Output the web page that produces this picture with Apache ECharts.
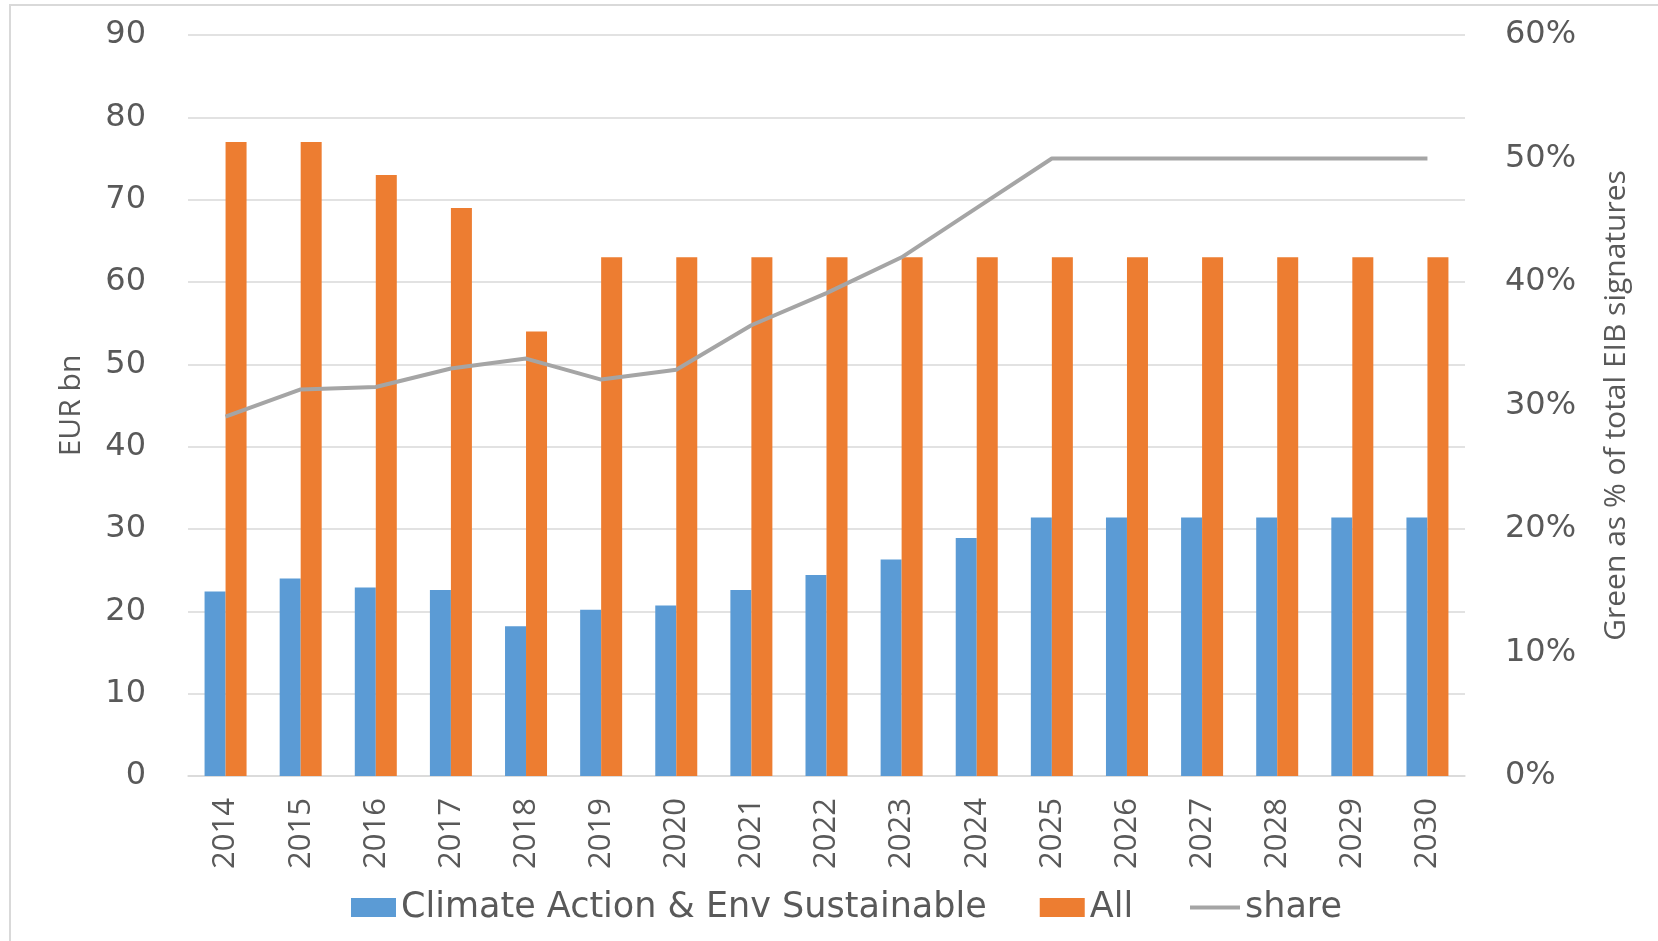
<!DOCTYPE html>
<html>
<head>
<meta charset="utf-8">
<title>EIB green signatures</title>
<script src="https://cdn.jsdelivr.net/npm/echarts@6/dist/echarts.min.js"></script>
<style>
  html, body { margin: 0; padding: 0; background: #fff; }
  #chart { width: 1658px; height: 941px; }
</style>
</head>
<body>
<div id="chart"></div>
<script>
var years = ['2014', '2015', '2016', '2017', '2018', '2019', '2020', '2021', '2022',
             '2023', '2024', '2025', '2026', '2027', '2028', '2029', '2030'];
// EUR bn
var climateEnv = [22.4, 24.0, 22.9, 22.6, 18.2, 20.2, 20.7, 22.6, 24.4,
                  26.3, 28.9, 31.4, 31.4, 31.4, 31.4, 31.4, 31.4];
var allSignatures = [77, 77, 73, 69, 54, 63, 63, 63, 63,
                     63, 63, 63, 63, 63, 63, 63, 63];
// green as share of total
var greenShare = [0.291, 0.313, 0.315, 0.330, 0.338, 0.321, 0.329, 0.365, 0.391,
                  0.420, 0.460, 0.500, 0.500, 0.500, 0.500, 0.500, 0.500];

var textColor = '#595959';
var gridColor = '#d9d9d9';
var hFont = 'DejaVu Sans';
var vFont = '"Open Sans", sans-serif';

var option = {
    animation: false,
    backgroundColor: '#fff',
    graphic: [{
        type: 'rect',
        shape: { x: 10, y: 5, width: 1700, height: 1000 },
        style: { fill: 'none', stroke: gridColor, lineWidth: 2 },
        silent: true
    }],
    grid: { left: 188, right: 193, top: 35, bottom: 165 },
    legend: [{
        data: ['Climate Action & Env Sustainable', 'All'],
        left: 351,
        top: 890,
        padding: 0,
        icon: 'rect',
        itemWidth: 45,
        itemHeight: 19,
        itemGap: 53,
        textStyle: { color: textColor, fontFamily: hFont, fontSize: 35 }
    }, {
        data: ['share'],
        left: 1190,
        top: 890,
        padding: 0,
        icon: 'rect',
        itemWidth: 50,
        itemHeight: 4,
        itemStyle: { borderWidth: 0 },
        textStyle: { color: textColor, fontFamily: hFont, fontSize: 35 }
    }],
    xAxis: {
        type: 'category',
        data: years,
        boundaryGap: true,
        axisTick: { show: false },
        axisLine: { lineStyle: { color: gridColor, width: 1.5 } },
        axisLabel: {
            rotate: 90,
            margin: 22,
            color: textColor,
            fontFamily: vFont,
            fontSize: 31
        }
    },
    yAxis: [{
        type: 'value',
        min: 0,
        max: 90,
        interval: 10,
        name: 'EUR bn',
        nameLocation: 'middle',
        nameRotate: 90,
        nameGap: 102,
        nameTextStyle: { color: textColor, fontFamily: vFont, fontSize: 30 },
        axisLine: { show: false },
        axisTick: { show: false },
        splitLine: { lineStyle: { color: gridColor, width: 1.5 } },
        axisLabel: { margin: 42, color: textColor, fontFamily: hFont, fontSize: 32 }
    }, {
        type: 'value',
        min: 0,
        max: 0.6,
        interval: 0.1,
        name: 'Green as % of total EIB signatures',
        nameLocation: 'middle',
        nameRotate: 90,
        nameGap: 136,
        nameTextStyle: { color: textColor, fontFamily: vFont, fontSize: 30 },
        axisLine: { show: false },
        axisTick: { show: false },
        splitLine: { show: false },
        axisLabel: {
            margin: 40,
            color: textColor,
            fontFamily: hFont,
            fontSize: 32,
            formatter: function (v) { return Math.round(v * 100) + '%'; }
        }
    }],
    series: [{
        name: 'Climate Action & Env Sustainable',
        type: 'bar',
        data: climateEnv,
        barWidth: 21,
        barGap: '0%',
        itemStyle: { color: '#5b9bd5' }
    }, {
        name: 'All',
        type: 'bar',
        data: allSignatures,
        barWidth: 21,
        barGap: '0%',
        itemStyle: { color: '#ed7d31' }
    }, {
        name: 'share',
        type: 'line',
        yAxisIndex: 1,
        data: greenShare,
        symbol: 'none',
        showSymbol: false,
        z: 5,
        itemStyle: { color: '#a5a5a5' },
        lineStyle: { color: '#a5a5a5', width: 4 }
    }]
};

var myChart = echarts.init(document.getElementById('chart'));
myChart.setOption(option);
</script>
</body>
</html>
